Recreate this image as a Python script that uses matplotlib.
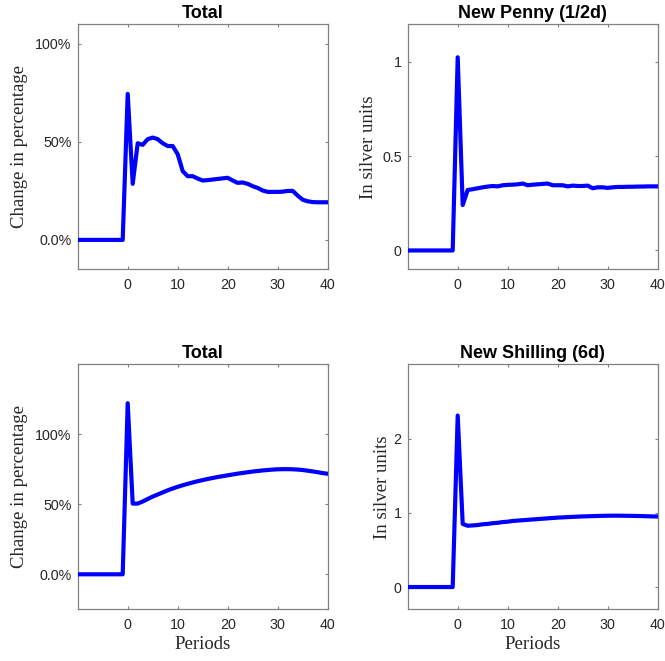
"""
Impulse responses: total money and new coin denominations, 2x2 panel.
"""
import matplotlib
matplotlib.use("Agg")
import matplotlib.pyplot as plt
import numpy as np

PERIODS = list(range(-10, 41))

# top-left: Total (share, shown as %)
TOTAL_TOP = [0.0] * 10 + [
    0.745, 0.286, 0.493, 0.485, 0.514, 0.522, 0.514, 0.493, 0.479, 0.479,
    0.437, 0.351, 0.325, 0.325, 0.313, 0.303, 0.305, 0.308, 0.311, 0.314,
    0.317, 0.303, 0.291, 0.293, 0.286, 0.274, 0.265, 0.252, 0.245, 0.245,
    0.245, 0.246, 0.250, 0.250, 0.226, 0.205, 0.197, 0.193, 0.192, 0.192,
    0.192,
]

# top-right: New Penny (1/2d), silver units
PENNY = [0.0] * 10 + [
    1.025, 0.241, 0.321, 0.325, 0.330, 0.335, 0.339, 0.342, 0.340, 0.346,
    0.348, 0.349, 0.351, 0.355, 0.346, 0.349, 0.351, 0.353, 0.355, 0.346,
    0.346, 0.346, 0.340, 0.344, 0.342, 0.342, 0.344, 0.330, 0.335, 0.335,
    0.332, 0.335, 0.337, 0.337, 0.338, 0.338, 0.339, 0.339, 0.340, 0.340,
    0.340,
]

# bottom-left: Total (share, shown as %)
TOTAL_BOTTOM = [0.0] * 10 + [
    1.222, 0.505, 0.505, 0.520, 0.538, 0.555, 0.570, 0.585, 0.600, 0.613,
    0.625, 0.636, 0.646, 0.656, 0.665, 0.673, 0.681, 0.688, 0.695, 0.701,
    0.707, 0.713, 0.719, 0.724, 0.729, 0.734, 0.738, 0.742, 0.745, 0.748,
    0.750, 0.751, 0.751, 0.750, 0.748, 0.745, 0.740, 0.735, 0.729, 0.723,
    0.718,
]

# bottom-right: New Shilling (6d), silver units
SHILLING = [0.0] * 10 + [
    2.31, 0.850, 0.825, 0.830, 0.835, 0.845, 0.850, 0.860, 0.865, 0.875,
    0.880, 0.890, 0.895, 0.900, 0.905, 0.910, 0.915, 0.920, 0.925, 0.930,
    0.935, 0.938, 0.942, 0.945, 0.948, 0.951, 0.953, 0.955, 0.957, 0.959,
    0.960, 0.961, 0.961, 0.960, 0.959, 0.958, 0.957, 0.955, 0.953, 0.951,
    0.950,
]

X_TICKS = [0, 10, 20, 30, 40]
PCT_TICKS = [0.0, 0.5, 1.0]
PCT_LABELS = ["0.0%", "50%", "100%"]

LINE_COLOR = "#0000ff"
AXIS_COLOR = "#808080"
TICK_TEXT = "#262626"
SANS = "Liberation Sans"
SERIF = "Liberation Serif"

W, H = 665, 661
fig = plt.figure(figsize=(W / 100, H / 100), dpi=100)


def make_axes(left, top, width=250, height=245):
    return fig.add_axes([left / W, (H - top - height) / H, width / W, height / H])


PANELS = [
    # (left px, top px, title, series, ylim, ylabel, label x, pct?, xlabel?)
    (77.7, 24.3, "Total", TOTAL_TOP, (-0.15, 1.10), "Change in percentage", -0.200, True, False),
    (407.7, 24.3, "New Penny (1/2d)", PENNY, (-0.10, 1.20), "In silver units", -0.121, False, False),
    (77.7, 364.3, "Total", TOTAL_BOTTOM, (-0.25, 1.50), "Change in percentage", -0.200, True, True),
    (407.7, 364.3, "New Shilling (6d)", SHILLING, (-0.30, 3.00), "In silver units", -0.068, False, True),
]

for left, top, title, series, ylim, ylabel, lab_x, pct, has_xlabel in PANELS:
    ax = make_axes(left, top)
    ax.plot(PERIODS, series, color=LINE_COLOR, linewidth=3.0,
            solid_joinstyle="round", solid_capstyle="round", zorder=3)
    ax.set_xlim(-10, 40)
    ax.set_ylim(*ylim)
    ax.set_xticks(X_TICKS)
    if pct:
        ax.set_yticks(PCT_TICKS)
        ax.set_yticklabels(PCT_LABELS)
    elif ylim[1] > 2:
        ax.set_yticks([0, 1, 2])
        ax.set_yticklabels(["0", "1", "2"])
    else:
        ax.set_yticks([0, 0.5, 1])
        ax.set_yticklabels(["0", "0.5", "1"])

    for lbl in ax.get_xticklabels() + ax.get_yticklabels():
        lbl.set_fontfamily(SANS)
        lbl.set_fontsize(10.3)
        lbl.set_color(TICK_TEXT)

    ax.tick_params(direction="in", length=2.5, width=0.8, color=AXIS_COLOR,
                   top=True, right=True)
    ax.tick_params(axis="x", pad=6.5)
    ax.tick_params(axis="y", pad=4.3)
    for sp in ax.spines.values():
        sp.set_color(AXIS_COLOR)
        sp.set_linewidth(0.9)

    ax.set_title(title, fontfamily=SANS, fontweight="bold", fontsize=13,
                 color="black", pad=4.5)
    ax.set_ylabel(ylabel, fontfamily=SERIF, fontsize=13.5, color=TICK_TEXT)
    ax.yaxis.set_label_coords(lab_x, 0.5)
    if has_xlabel:
        ax.set_xlabel("Periods", fontfamily=SERIF, fontsize=13.5, color=TICK_TEXT)
        ax.xaxis.set_label_coords(0.5, -0.108)

fig.savefig("out.png", dpi=100, facecolor="white")
